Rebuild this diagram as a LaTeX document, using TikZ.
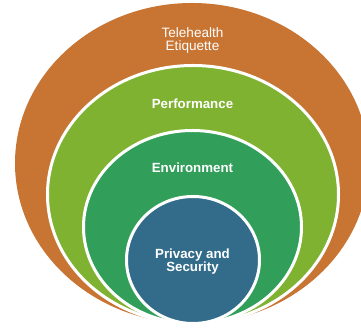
\documentclass[tikz,border=0pt]{standalone}
\usepackage{fontspec}
\setmainfont{Liberation Sans}
\definecolor{etiq}{RGB}{200,116,50}
\definecolor{perf}{RGB}{128,178,50}
\definecolor{envi}{RGB}{49,158,90}
\definecolor{priv}{RGB}{51,108,138}
\begin{document}
\begin{tikzpicture}[x=1pt, y=1pt,
    ring/.style={draw=white, line width=3pt},
    lbl/.style={text=white, align=center, font=\fontsize{13.3}{13}\selectfont\bfseries}]
  \useasboundingbox (0,0) rectangle (361,328);
  \begin{scope}
    \clip (0,0) rectangle (361,328);
    % nested rings, all touching at the bottom
    \fill[etiq] (192,164.75) ellipse [x radius=177, y radius=160.25];
    \draw[ring, fill=perf] (193,133.5) ellipse [x radius=145.5, y radius=129];
    \draw[ring, fill=envi] (192.5,101) ellipse [x radius=109, y radius=96.5];
    \draw[ring, fill=priv] (193,68) ellipse [x radius=66.5, y radius=63.5];
  \end{scope}
  \node[lbl, font=\fontsize{13.6}{13}\selectfont] (etiquette) at (192.5,287.5) {Telehealth\\Etiquette};
  \node[lbl] (performance) at (192.5,224) {Performance};
  \node[lbl] (environment) at (192.5,160) {Environment};
  \node[lbl] (privacy) at (192.5,66.5) {Privacy and\\Security};
\end{tikzpicture}
\end{document}
